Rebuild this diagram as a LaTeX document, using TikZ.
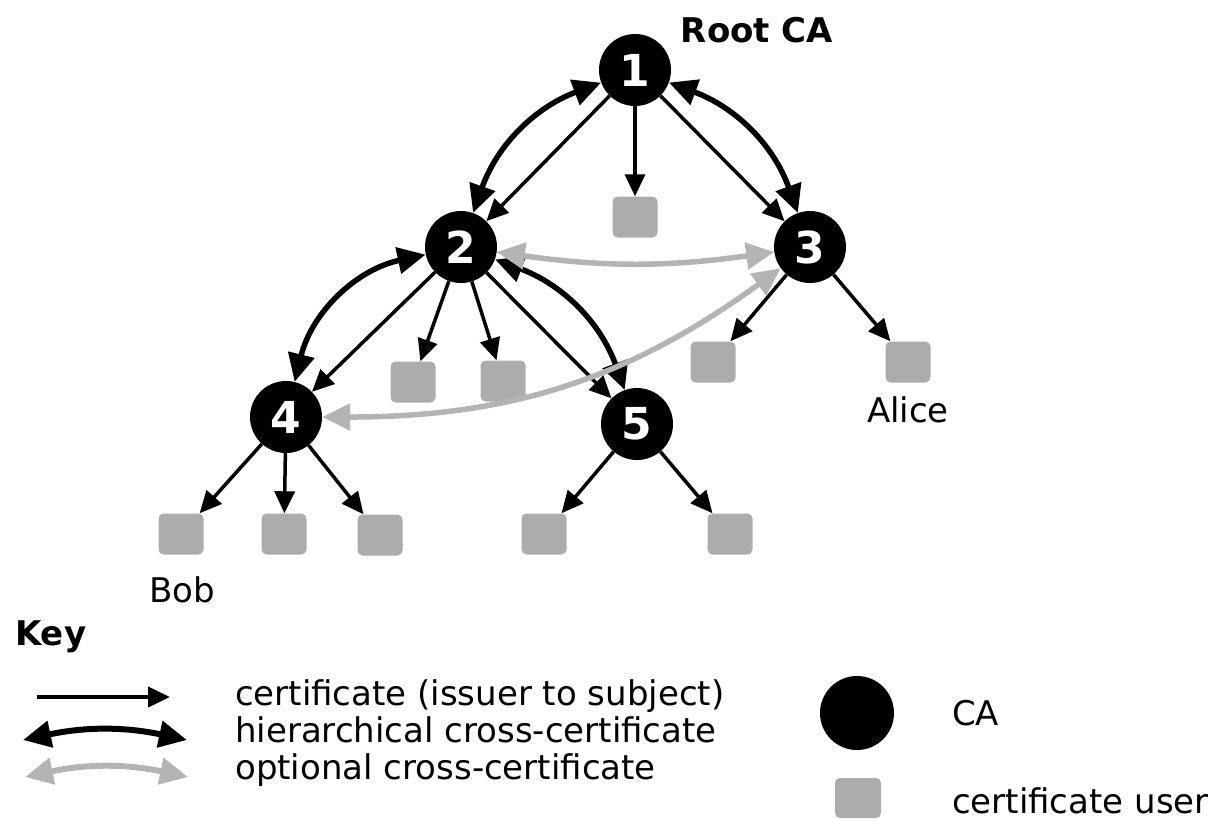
\documentclass[tikz,border=0pt]{standalone}
\usepackage{fontspec}
\setmainfont{DejaVu Sans}
\usepackage{tikz}
\usetikzlibrary{shapes,arrows.meta,positioning,calc}
\definecolor{usergray}{RGB}{172,172,172}
\definecolor{optgray}{RGB}{180,180,180}

\begin{document}
\begin{tikzpicture}[x=1pt, y=-1pt,
    ca/.style={circle, fill=black, minimum size=72pt, inner sep=0pt, text=white, font=\fontsize{44}{50}\selectfont\bfseries},
    user/.style={rectangle, rounded corners=5pt, fill=usergray, minimum width=45pt, minimum height=41pt, inner sep=0pt},
    txt/.style={inner sep=0pt, font=\fontsize{34}{40}\selectfont},
    boldtxt/.style={inner sep=0pt, font=\fontsize{34}{40}\selectfont\bfseries},
    cert/.style={-{Triangle[length=22pt, width=20pt]}, line width=3.5pt},
    hier/.style={{Triangle[length=28pt, width=26pt]}-{Triangle[length=28pt, width=26pt]}, line width=5.5pt},
    opt/.style={hier, draw=optgray}]
    \useasboundingbox (0,0) rectangle (1211,819);

    % CAs
    \node[ca] (ca1) at (635,70) {1};
    \node[ca] (ca2) at (461,247) {2};
    \node[ca] (ca3) at (810,247) {3};
    \node[ca] (ca4) at (286,417) {4};
    \node[ca] (ca5) at (637,424) {5};
    \node[boldtxt, anchor=base] (root) at (757,42) {Root CA};

    % Certificate users
    \node[user] (u1) at (635,217) {};
    \node[user] (u2a) at (413,382) {};
    \node[user] (u2b) at (503,381) {};
    \node[user] (u3a) at (713,362) {};
    \node[user] (u3b) at (908,362) {};
    \node[user] (u4a) at (181,534) {};
    \node[user] (u4b) at (284,534) {};
    \node[user] (u4c) at (380,535) {};
    \node[user] (u5a) at (544,534) {};
    \node[user] (u5b) at (730,534) {};
    \node[txt, anchor=base] (alice) at (908,422) {Alice};
    \node[txt, anchor=base] (bob) at (182,602) {Bob};

    % Certificates
    \draw[cert] (ca1) -- (u1);
    \draw[cert] (ca1) -- (ca2);
    \draw[cert] (ca1) -- (ca3);
    \draw[cert] (ca2) -- (u2a);
    \draw[cert] (ca2) -- (u2b);
    \draw[cert] (ca2) -- (ca4);
    \draw[cert] (ca2) -- (ca5);
    \draw[cert] (ca3) -- (u3a);
    \draw[cert] (ca3) -- (u3b);
    \draw[cert] (ca4) -- (u4a);
    \draw[cert] (ca4) -- (u4b);
    \draw[cert] (ca4) -- (u4c);
    \draw[cert] (ca5) -- (u5a);
    \draw[cert] (ca5) -- (u5b);

    % Hierarchical cross-certificates
    \draw[hier] (ca1) to[bend right=25] (ca2);
    \draw[hier] (ca1) to[bend left=25] (ca3);
    \draw[hier] (ca2) to[bend right=32] (ca4);
    \draw[hier] (ca2) to[bend left=25] (ca5);

    % Optional cross-certificates
    \draw[opt] (ca2) to[bend right=8] (ca3);
    \draw[opt] (ca4) to[bend right=18] (ca3);

    % Key
    \node[boldtxt, anchor=base west] (key) at (15,645) {Key};
    \coordinate (kc1) at (37,697);
    \coordinate (kc2) at (170,697);
    \coordinate (kh1) at (23,740);
    \coordinate (kh2) at (187,740);
    \coordinate (ko1) at (25,777);
    \coordinate (ko2) at (188,777);
    \draw[cert, line width=4pt] (kc1) -- (kc2);
    \draw[hier, line width=6pt] (kh1) to[bend left=12] (kh2);
    \draw[opt, line width=6pt] (ko1) to[bend left=12] (ko2);
    \node[txt, anchor=base west] (kcert) at (235,705) {certificate (issuer to subject)};
    \node[txt, anchor=base west] (khier) at (235,742) {hierarchical cross-certificate};
    \node[txt, anchor=base west] (kopt) at (235,779) {optional cross-certificate};
    \node[ca, minimum size=74pt] (kca) at (857,713) {};
    \node[txt, anchor=base west] (kcatxt) at (952,725) {CA};
    \node[user, minimum width=46pt, minimum height=40pt] (kusr) at (858,798) {};
    \node[txt, anchor=base west] (kusrtxt) at (952,813) {certificate user};
\end{tikzpicture}
\end{document}
